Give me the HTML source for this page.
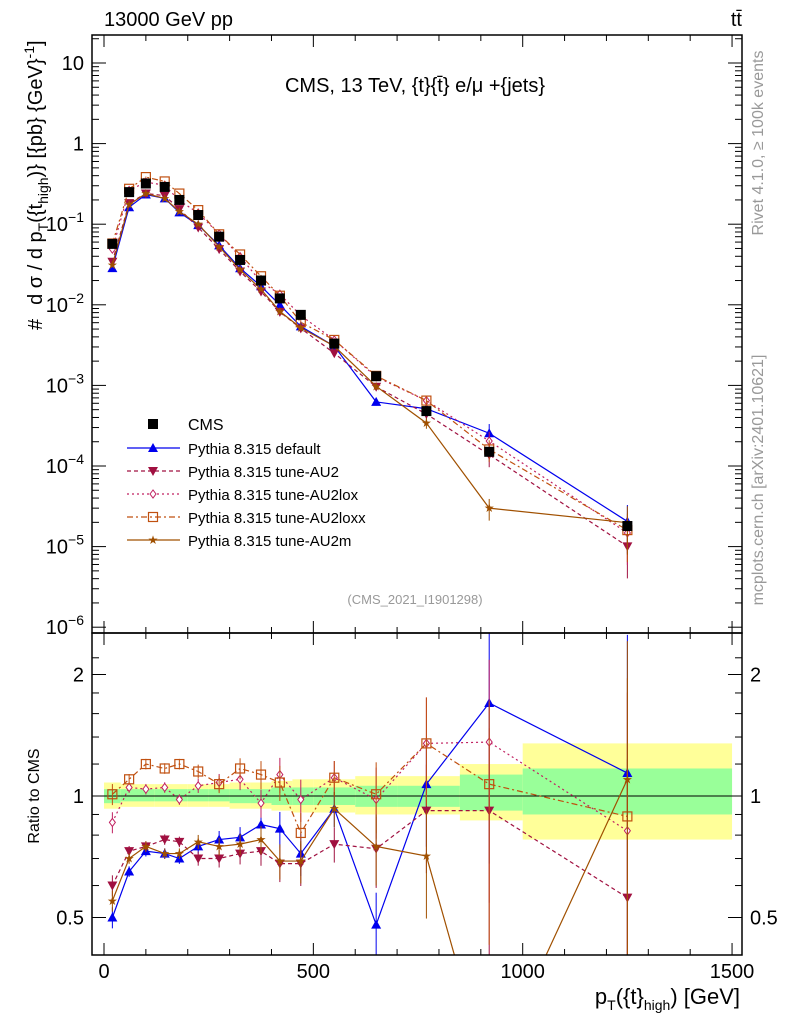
<!DOCTYPE html>
<html><head><meta charset="utf-8"><style>
body{margin:0;background:#fff;width:786px;height:1024px;overflow:hidden}
svg{display:block}
svg text{font-family:"Liberation Sans",sans-serif}
</style></head><body>
<svg id="c" width="786" height="1024" xmlns="http://www.w3.org/2000/svg"></svg>
<script>
const xCenters=[20,60,100,145,180,225,275,325,375,420,470,550,650,770,920,1250];
const binEdges=[0,40,80,120,160,200,250,300,350,400,450,500,600,700,850,1000,1500];
const cmsVals=[0.057,0.25,0.32,0.29,0.2,0.13,0.07,0.036,0.02,0.012,0.0075,0.0033,0.0013,0.00048,0.00015,1.8e-5];
const bandYellowLo=[0.93,0.94,0.94,0.94,0.94,0.94,0.94,0.93,0.93,0.92,0.91,0.91,0.9,0.9,0.87,0.78];
const bandYellowHi=[1.08,1.07,1.07,1.07,1.07,1.07,1.07,1.08,1.08,1.09,1.1,1.1,1.12,1.12,1.2,1.35];
const bandGreenLo=[0.96,0.97,0.97,0.97,0.97,0.97,0.97,0.96,0.96,0.95,0.95,0.95,0.94,0.94,0.92,0.9];
const bandGreenHi=[1.04,1.04,1.04,1.04,1.04,1.04,1.04,1.04,1.04,1.05,1.05,1.05,1.06,1.06,1.13,1.17];
const rDefault=[0.5,0.65,0.73,0.72,0.7,0.75,0.78,0.79,0.85,0.83,0.72,0.93,0.48,1.07,1.7,1.14];
const rAU2=[0.6,0.73,0.75,0.78,0.77,0.7,0.7,0.72,0.73,0.68,0.68,0.76,0.74,0.92,0.92,0.56];
const rAU2lox=[0.86,1.05,1.04,1.05,0.98,1.06,1.08,1.1,0.96,1.13,0.98,1.11,0.98,1.35,1.36,0.82];
const rAU2loxx=[1.01,1.1,1.2,1.17,1.2,1.15,1.07,1.17,1.13,1.08,0.81,1.11,1.01,1.35,1.07,0.89];
const rAU2m=[0.55,0.7,0.75,0.72,0.72,0.77,0.75,0.76,0.78,0.69,0.69,0.93,0.75,0.71,0.2,1.1];
const relErr=[0.06,0.03,0.03,0.03,0.03,0.04,0.05,0.06,0.08,0.1,0.12,0.1,0.2,0.3,0.6,1.2];
const xTicks=[0,500,1000,1500];
const yTicksMain=[1,0,-1,-2,-3,-4,-5,-6];
const yTicksRatio=[0.5,1,2];

const S=document.getElementById('c');const NS='http://www.w3.org/2000/svg';
function el(t,a,p){const e=document.createElementNS(NS,t);for(const k in a)e.setAttribute(k,a[k]);(p||S).appendChild(e);return e;}
const L=92,R=742,T=35,M=633,B=955;
const X=v=>104+v*0.4187;
const YM=v=>63+(1-Math.log10(v))*80.6;
const YR=v=>796-Math.log2(v)*121.5;
const clipM=el('clipPath',{id:'cm'});el('rect',{x:L,y:T,width:R-L,height:M-T},clipM);
const clipR=el('clipPath',{id:'cr'});el('rect',{x:L,y:M,width:R-L,height:B-M},clipR);
const gb=el('g',{'clip-path':'url(#cr)'});

for(let i=0;i<cmsVals.length;i++){
 el('rect',{x:X(binEdges[i]),y:YR(bandYellowHi[i]),width:X(binEdges[i+1])-X(binEdges[i]),height:YR(bandYellowLo[i])-YR(bandYellowHi[i]),fill:'#ffff99'},gb);
 el('rect',{x:X(binEdges[i]),y:YR(bandGreenHi[i]),width:X(binEdges[i+1])-X(binEdges[i]),height:YR(bandGreenLo[i])-YR(bandGreenHi[i]),fill:'#99ff99'},gb);
}
el('line',{x1:L,x2:R,y1:YR(1),y2:YR(1),stroke:'#000'});
const series=[
 {n:'Pythia 8.315 default',r:rDefault,c:'#0000ee',d:'',m:'tri'},
 {n:'Pythia 8.315 tune-AU2',r:rAU2,c:'#a01040',d:'4,3',m:'itri'},
 {n:'Pythia 8.315 tune-AU2lox',r:rAU2lox,c:'#c02060',d:'2,3',m:'dia'},
 {n:'Pythia 8.315 tune-AU2loxx',r:rAU2loxx,c:'#c05010',d:'6,3,2,3',m:'sq'},
 {n:'Pythia 8.315 tune-AU2m',r:rAU2m,c:'#a05000',d:'',m:'star'}];
function marker(g,m,x,y,c){
 if(m==='tri')el('polygon',{points:`${x},${y-5} ${x-5},${y+4} ${x+5},${y+4}`,fill:c},g);
 else if(m==='itri')el('polygon',{points:`${x},${y+5} ${x-5},${y-4} ${x+5},${y-4}`,fill:c},g);
 else if(m==='dia')el('polygon',{points:`${x},${y-4} ${x-3},${y} ${x},${y+4} ${x+3},${y}`,fill:'#fff',stroke:c},g);
 else if(m==='sq')el('rect',{x:x-4.5,y:y-4.5,width:9,height:9,fill:'none',stroke:c,'stroke-width':1.2},g);
 else if(m==='star')el('text',{x:x,y:y+4,'font-size':12,'text-anchor':'middle',fill:c},g).textContent='★';
 else el('rect',{x:x-5,y:y-5,width:10,height:10,fill:'#000'},g);
}
series.forEach((s,si)=>{
 ['m','r'].forEach(p=>{
  const g=el('g',{'clip-path':p==='m'?'url(#cm)':'url(#cr)'});
  
  
  const Y=i=>p==='m'?YM(cmsVals[i]*s.r[i]):YR(s.r[i]);
  el('polyline',{points:xCenters.map((x,i)=>X(x)+','+Y(i)).join(' '),fill:'none',stroke:s.c,'stroke-width':1.2,'stroke-dasharray':s.d},g);
  xCenters.forEach((x,i)=>{
   const e=relErr[i]*(p==='m'?0.5:1);
   const v=p==='m'?cmsVals[i]*s.r[i]:s.r[i];
   el('line',{x1:X(x),x2:X(x),y1:p==='m'?YM(v*(1+e)):YR(v+e*s.r[i]),y2:p==='m'?YM(Math.max(v*(1-e),1e-9)):YR(Math.max(v-e*s.r[i],0.01)),stroke:s.c,'stroke-width':1},g);
   marker(g,s.m,X(x),Y(i),s.c);
  });
 });
});
const gc=el('g',{'clip-path':'url(#cm)'});

xCenters.forEach((x,i)=>marker(gc,'box',X(x),YM(cmsVals[i]),'#000'));
el('rect',{x:L,y:T,width:R-L,height:M-T,fill:'none',stroke:'#000','stroke-width':1.5});
el('rect',{x:L,y:M,width:R-L,height:B-M,fill:'none',stroke:'#000','stroke-width':1.5});
for(let v=0;v<=1500;v+=100){const big=v%500===0;[[T,1],[M,-1],[M,1],[B,-1]].forEach(([y,d])=>el('line',{x1:X(v),x2:X(v),y1:y,y2:y+d*(big?12:6),stroke:'#000'}));}
xTicks.forEach(v=>{const t=el('text',{x:X(v),y:978,'font-size':20,'text-anchor':'middle'});t.textContent=v;});
yTicksMain.forEach(p=>{const y=YM(Math.pow(10,p));
 [[L,1],[R,-1]].forEach(([x,d])=>{el('line',{x1:x,x2:x+d*14,y1:y,y2:y,stroke:'#000'});
  for(let k=2;k<10;k++){const yy=YM(k*Math.pow(10,p));if(yy>T&&yy<M)el('line',{x1:x,x2:x+d*7,y1:yy,y2:yy,stroke:'#000'});}});
 const t=el('text',{x:84,y:y+7,'font-size':20,'text-anchor':'end'});
 if(p===1)t.textContent='10';else if(p===0)t.textContent='1';else{t.textContent='10';el('tspan',{dy:-9,'font-size':14},t).textContent='−'+(-p);}
});
[0.4,0.5,0.6,0.7,0.8,0.9,1,1.2,1.4,1.6,1.8,2,2.2].forEach(v=>{const y=YR(v);if(y<M||y>B)return;const big=yTicksRatio.includes(v);
 [[L,1],[R,-1]].forEach(([x,d])=>el('line',{x1:x,x2:x+d*(big?14:7),y1:y,y2:y,stroke:'#000'}));});
yTicksRatio.forEach(v=>{[[84,'end'],[750,'start']].forEach(([x,a])=>{const t=el('text',{x:x,y:YR(v)+7,'font-size':20,'text-anchor':a});t.textContent=v;});});
function txt(x,y,s,sz,name,extra){const t=el('text',Object.assign({x:x,y:y,'font-size':sz},extra||{}));t.innerHTML=s;return t;}
txt(104,26,'13000 GeV pp',20,'header-left');
txt(742,26,'tt̄',20,'header-right',{'text-anchor':'end'});
txt(415,92,'CMS, 13 TeV, {t}{t̄} e/μ +{jets}',20,'plot-title',{'text-anchor':'middle'});
txt(415,604,'(CMS_2021_I1901298)',13,'analysis-id',{'text-anchor':'middle',fill:'#999'});
txt(740,1004,'p<tspan dy="6" font-size="14">T</tspan><tspan dy="-6">({t}</tspan><tspan dy="6" font-size="14">high</tspan><tspan dy="-6">) [GeV]</tspan>',22,'x-axis-title',{'text-anchor':'end'});
txt(0,0,'Ratio to CMS',16,'ratio-y-title',{transform:'translate(39,796) rotate(-90)','text-anchor':'middle'});
txt(0,0,'#<tspan dx="14">d σ / d p</tspan><tspan font-size="14" dy="6">T</tspan><tspan dy="-6">({t</tspan><tspan font-size="14" dy="6">high</tspan><tspan dy="-6">)} [{pb} {GeV}</tspan><tspan font-size="14" dy="-8">-1</tspan><tspan dy="8">]</tspan>',20,'y-axis-title',{transform:'translate(42,330) rotate(-90)','text-anchor':'start'});
txt(0,0,'Rivet 4.1.0, ≥ 100k events',16,'rivet-label',{transform:'translate(763,143) rotate(-90)','text-anchor':'middle',fill:'#999'});
txt(0,0,'mcplots.cern.ch [arXiv:2401.10621]',16,'mcplots-label',{transform:'translate(763,480) rotate(-90)','text-anchor':'middle',fill:'#999'});
const lg=el('g',{});
marker(lg,'box',153,424,'#000');txt(188,430,'CMS',16,'legend-entry');
series.forEach((s,i)=>{const y=448+i*23;
 el('line',{x1:127,x2:180,y1:y,y2:y,stroke:s.c,'stroke-width':1.2,'stroke-dasharray':s.d},lg);
 marker(lg,s.m,153,y,s.c);txt(188,y+6,s.n,15,'legend-entry');});
</script>
</body></html>
